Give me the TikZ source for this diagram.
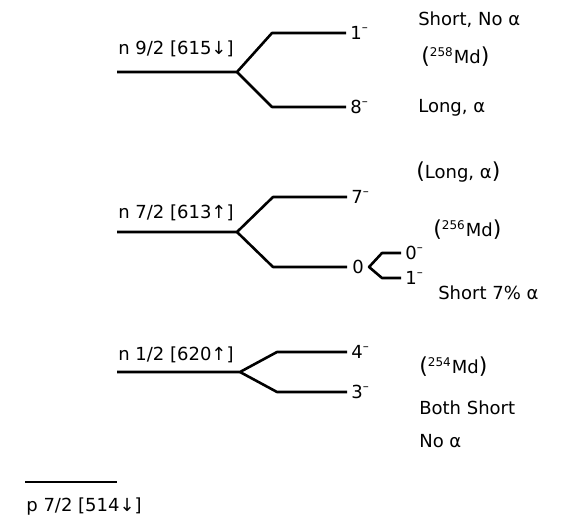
\documentclass[tikz,border=0pt]{standalone}
\usepackage{fontspec}
\setmainfont{DejaVu Sans}
\usepackage{tikz}
\usetikzlibrary{positioning}

\newcommand{\smin}{\textsuperscript{–}}
\newcommand{\lpar}{{\fontsize{11}{11}\selectfont(}}
\newcommand{\rpar}{{\fontsize{11}{11}\selectfont)}}

\begin{document}
\begin{tikzpicture}[x=0.5pt, y=-0.5pt, line width=1.3pt, line join=round,
  orbit/.style={anchor=west, inner sep=0pt, font=\fontsize{9}{10}\selectfont},
  spin/.style={anchor=west, inner sep=1.5pt, font=\fontsize{9}{10}\selectfont},
  note/.style={anchor=west, inner sep=0pt, font=\fontsize{9}{10}\selectfont}]
\useasboundingbox (0,0) rectangle (567,519);

\node[orbit] (n9) at (117,49) {n 9/2 [615↓]};
\coordinate (t0) at (117,72);
\coordinate (tb) at (237,72);
\coordinate (tu) at (272,33);
\coordinate (td) at (272,107);
\node[spin] (t1) at (346,33) {1\smin};
\node[spin] (t8) at (346,107) {8\smin};
\draw (t0) -- (tb) -- (tu) -- (t1);
\draw (tb) -- (td) -- (t8);

\node[orbit] (n7) at (117,213) {n 7/2 [613↑]};
\coordinate (m0) at (117,232);
\coordinate (mb) at (237,232);
\coordinate (mu) at (273,197);
\coordinate (md) at (273,267);
\node[spin] (m7) at (347,197) {7\smin};
\node[spin, inner sep=2pt] (mz) at (347,267) {0};
\draw (m0) -- (mb) -- (mu) -- (m7);
\draw (mb) -- (md) -- (mz);
\coordinate (su) at (382,253);
\coordinate (sd) at (382,278);
\node[spin] (s0) at (401,253) {0\smin};
\node[spin] (s1) at (401,278) {1\smin};
\draw (s0) -- (su) -- (mz.east) -- (sd) -- (s1);

\node[orbit] (n1) at (117,355) {n 1/2 [620↑]};
\coordinate (b0) at (117,372);
\coordinate (bb) at (240,372);
\coordinate (bu) at (277,352);
\coordinate (bd) at (277,392);
\node[spin] (b4) at (347,352) {4\smin};
\node[spin] (b3) at (347,392) {3\smin};
\draw (b0) -- (bb) -- (bu) -- (b4);
\draw (bb) -- (bd) -- (b3);

\node[orbit, anchor=east] (p7) at (143,507) {p 7/2 [514↓]};
\coordinate (pe) at (117,482);
\draw (p7.west |- pe) -- (pe);

\node[note] (r1) at (417,20) {Short, No α};
\node[note] (r2) at (420,57) {\lpar\textsuperscript{258}Md\rpar};
\node[note] (r3) at (417,108) {Long, α};
\node[note] (r4) at (415,172) {\lpar Long, α\rpar};
\node[note] (r5) at (432,230) {\lpar\textsuperscript{256}Md\rpar};
\node[note] (r6) at (437,293) {Short 7\% α};
\node[note] (r7) at (418,367) {\lpar\textsuperscript{254}Md\rpar};
\node[note] (r8) at (418,408) {Both Short};
\node[note] (r9) at (418,441) {No α};
\end{tikzpicture}
\end{document}
